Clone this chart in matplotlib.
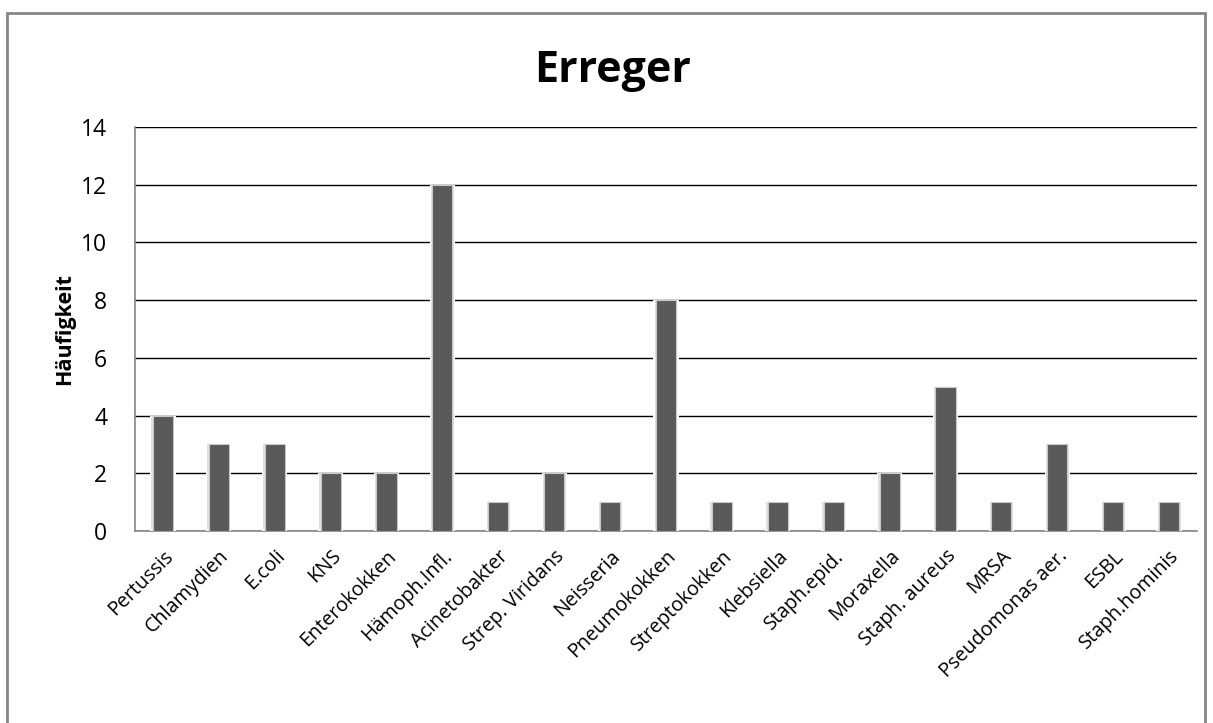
import matplotlib
matplotlib.use("Agg")
import matplotlib.pyplot as plt
from matplotlib.patches import Rectangle

categories = ["Pertussis", "Chlamydien", "E.coli", "KNS", "Enterokokken", "Hämoph.Infl.",
              "Acinetobakter", "Strep. Viridans", "Neisseria", "Pneumokokken", "Streptokokken",
              "Klebsiella", "Staph.epid.", "Moraxella", "Staph. aureus", "MRSA",
              "Pseudomonas aer.", "ESBL", "Staph.hominis"]
values = [4, 3, 3, 2, 2, 12, 1, 2, 1, 8, 1, 1, 1, 2, 5, 1, 3, 1, 1]
yticks = [0, 2, 4, 6, 8, 10, 12, 14]

plt.rcParams['font.family'] = ['Open Sans', 'DejaVu Sans']

fig = plt.figure(figsize=(12.13, 7.23), dpi=100)
ax = fig.add_axes([135/1213, 1 - 531/723, (1197-135)/1213, (531-127)/723])

x = list(range(len(categories)))
w = 0.36
ax.bar(x, values, width=w + 0.09, color='white', zorder=3)
ax.bar(x, values, width=w + 0.05, color='#e2e2e2', zorder=4)
ax.bar(x, values, width=w, color='#595959', edgecolor='#c8c8c8', linewidth=0.8, zorder=5)

ax.set_xlim(-0.5, len(categories) - 0.5)
ax.set_ylim(0, 14)
ax.set_yticks(yticks)
ax.yaxis.grid(True, color='black', linewidth=1.0, zorder=1)
ax.set_axisbelow(True)
for s in ['top', 'right']:
    ax.spines[s].set_visible(False)
for s in ['left', 'bottom']:
    ax.spines[s].set_color('#868686')
    ax.spines[s].set_linewidth(1.2)
ax.tick_params(axis='y', length=0, labelsize=16.5, pad=20)
ax.tick_params(axis='x', length=0, pad=11)
ax.set_xticks(x)
ax.set_xticklabels(categories, rotation=45, ha='right', va='top', rotation_mode='anchor',
                   fontsize=14.2)
ax.set_ylabel('Häufigkeit', fontsize=15.5, fontweight='bold')
ax.yaxis.set_label_coords(-0.056, 0.5)

fig.text(0.505, 1 - 71 / 723, 'Erreger', fontsize=31, fontweight='bold',
         ha='center', va='center')

fig.patches.append(Rectangle((7/1213, -0.01), (1205-7)/1213, (1 - 13/723) + 0.01,
                             transform=fig.transFigure, fill=False,
                             edgecolor='#868686', linewidth=2))

fig.savefig('out.png', dpi=100)
